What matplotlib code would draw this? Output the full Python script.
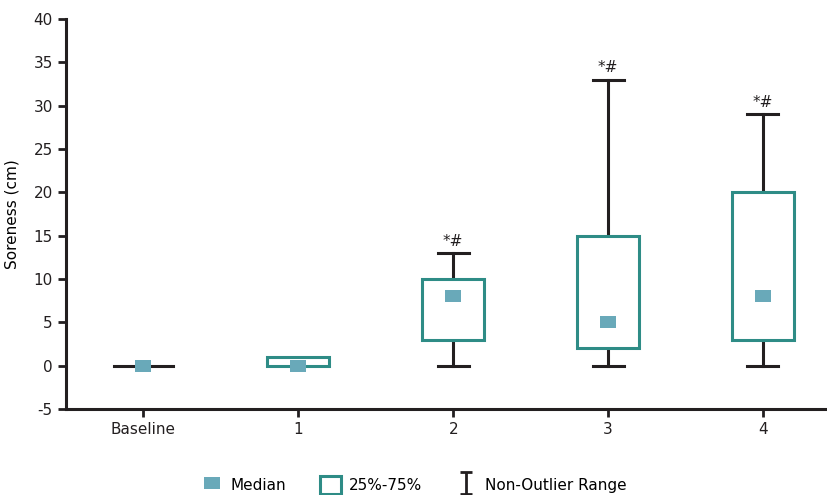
import matplotlib
matplotlib.use('Agg')
import matplotlib.pyplot as plt
from matplotlib.patches import Rectangle, Patch
from matplotlib.lines import Line2D
from matplotlib.path import Path

plt.rcParams['font.family'] = ['Liberation Sans Narrow', 'DejaVu Sans']
plt.rcParams['axes.unicode_minus'] = False

# data
labels = ['Baseline', '1', '2', '3', '4']
whisker_low = [0, 0, 0, 0, 0]
whisker_high = [0, 1, 13, 33, 29]
q1 = [0, 0, 3, 2, 3]
q3 = [0, 1, 10, 15, 20]
medians = [0, 0, 8, 5, 8]
marks = ['', '', '*#', '*#', '*#']

box_col = '#2e8c86'
med_col = '#69a9b9'
line_col = '#231f20'

fig = plt.figure(figsize=(8.28, 4.95), dpi=100)
ax = fig.add_axes([0.0797, 0.1737, 0.9203, 0.7879])

# slightly wide square marker like the original
medbox = Path([(-0.6, -0.5), (0.6, -0.5), (0.6, 0.5), (-0.6, 0.5), (-0.6, -0.5)],
              [Path.MOVETO, Path.LINETO, Path.LINETO, Path.LINETO, Path.CLOSEPOLY])

box_w = 0.4
cap_w = 0.2
for i in range(len(labels)):
    if q3[i] == q1[i]:
        # flat group, just a line
        ax.plot([i - 0.19, i + 0.19], [q1[i], q1[i]], color=line_col, lw=2.2, zorder=2)
    else:
        ax.plot([i, i], [whisker_low[i], q1[i]], color=line_col, lw=2.2, zorder=2)
        ax.plot([i, i], [q3[i], whisker_high[i]], color=line_col, lw=2.2, zorder=2)
        if whisker_high[i] > q3[i]:
            ax.plot([i - cap_w / 2, i + cap_w / 2], [whisker_high[i]] * 2, color=line_col, lw=2.2, zorder=2)
        if whisker_low[i] < q1[i]:
            ax.plot([i - cap_w / 2, i + cap_w / 2], [whisker_low[i]] * 2, color=line_col, lw=2.2, zorder=2)
        ax.add_patch(Rectangle((i - box_w / 2, q1[i]), box_w, q3[i] - q1[i],
                               facecolor='white', edgecolor=box_col, lw=2.2, zorder=3))
    if marks[i]:
        ax.text(i, whisker_high[i] + 0.5, marks[i], ha='center', va='bottom', fontsize=11, color=line_col)

ax.plot(range(len(labels)), medians, marker=medbox, color=med_col, markersize=11,
        zorder=4, linestyle='none', markeredgewidth=0)

ax.set_xlim(-0.5, 4.42)
ax.set_ylim(-5, 40)
ax.set_yticks(range(-5, 41, 5))
ax.set_xticks(range(len(labels)))
ax.set_xticklabels(labels)
ax.set_ylabel('Soreness (cm)', fontsize=11, labelpad=10)

for s in ['top', 'right']:
    ax.spines[s].set_visible(False)
for s in ['left', 'bottom']:
    ax.spines[s].set_linewidth(2.2)
    ax.spines[s].set_color(line_col)
ax.tick_params(axis='both', direction='out', length=6, width=2, color=line_col, labelsize=11, labelcolor=line_col)

# I-shaped legend marker
ibar = Path([(-0.5, 1), (0.5, 1), (0, 1), (0, -1), (-0.5, -1), (0.5, -1)],
            [Path.MOVETO, Path.LINETO, Path.MOVETO, Path.LINETO, Path.MOVETO, Path.LINETO])
handles = [
    Line2D([], [], marker=medbox, color=med_col, linestyle='none', markersize=11, markeredgewidth=0),
    Patch(facecolor='white', edgecolor=box_col, lw=2.2),
    Line2D([], [], marker=ibar, color=line_col, linestyle='none', markersize=16, markeredgewidth=2),
]
fig.legend(handles, ['Median', '25%-75%', 'Non-Outlier Range'], loc='lower center',
           bbox_to_anchor=(0.5, -0.025), ncol=3, frameon=False, fontsize=11,
           handlelength=1.4, handleheight=1.4, columnspacing=2.2, handletextpad=0.5)

fig.savefig('out.png', dpi=100)
